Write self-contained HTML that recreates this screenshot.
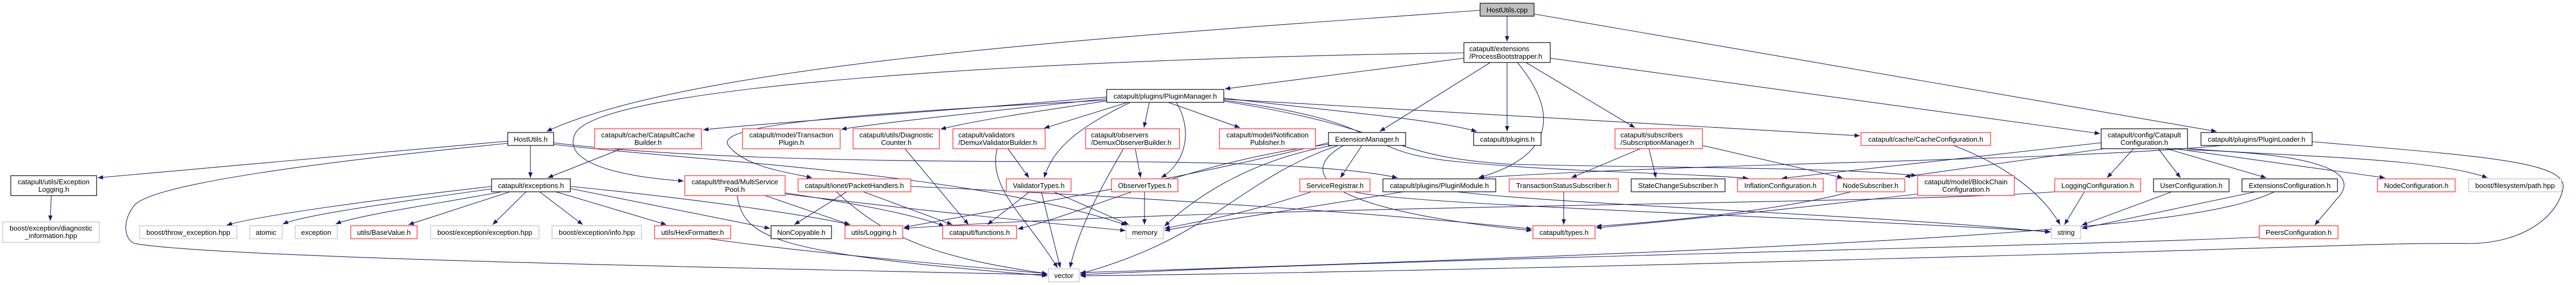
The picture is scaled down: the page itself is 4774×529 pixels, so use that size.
<!DOCTYPE html>
<html><head><meta charset="utf-8"><style>
html,body{margin:0;padding:0;background:#fff;}
svg{display:block;}
text{font-family:"Liberation Sans",Arial,sans-serif;font-size:13px;fill:#000;}
.e{fill:none;stroke:#191970;stroke-width:1.1;}
.b{fill:#fff;stroke:#000;stroke-width:1.2;}
.r{fill:#fff;stroke:#f22;stroke-width:1.2;}
.g{fill:#fff;stroke:#bfbfbf;stroke-width:1.2;}
</style></head><body>
<svg width="4774" height="529" viewBox="0 0 4774 529" xmlns="http://www.w3.org/2000/svg">
<defs><marker id="a" markerWidth="10" markerHeight="8" refX="10" refY="4" orient="auto" markerUnits="userSpaceOnUse"><path d="M0,0 L10,4 L0,8z" fill="#191970"/></marker></defs>
<g marker-end="url(#a)">
<path class="e" d="M2793,30 L2793,77"/>
<path class="e" d="M2743,19 C2200,60 1300,110 1013,244"/>
<path class="e" d="M2843,26 L4108,244"/>
<path class="e" d="M2713,98 C1900,110 1100,160 1065,250 C1040,310 1180,330 1267,336"/>
<path class="e" d="M2713,108 L2270,165"/>
<path class="e" d="M2762,116 L2557,244"/>
<path class="e" d="M2793,116 L2793,244"/>
<path class="e" d="M2812,116 C2890,210 2880,290 2740,330"/>
<path class="e" d="M2828,116 L3030,237"/>
<path class="e" d="M2873,108 L3892,248"/>
<path class="e" d="M983,270 L983,330"/>
<path class="e" d="M941,262 L181,330"/>
<path class="e" d="M941,266 C600,300 290,340 250,380 C225,410 230,445 250,452 C400,480 1500,500 1941,510"/>
<path class="e" d="M1026,265 C1300,300 1800,300 2020,300 C2300,300 2500,310 2590,330"/>
<path class="e" d="M1026,268 C1300,300 1800,320 2088,418"/>
<path class="e" d="M911,346 C700,370 480,400 420,418"/>
<path class="e" d="M915,350 C700,380 560,400 524,416"/>
<path class="e" d="M930,356 C800,380 660,400 622,416"/>
<path class="e" d="M945,356 L757,417"/>
<path class="e" d="M975,356 L913,417"/>
<path class="e" d="M1000,356 L1080,417"/>
<path class="e" d="M1030,356 L1235,417"/>
<path class="e" d="M1057,350 L1427,424"/>
<path class="e" d="M1057,346 C1300,370 1500,400 1576,417"/>
<path class="e" d="M1152,276 L1015,330"/>
<path class="e" d="M2051,180 C1700,210 1400,230 1303,241"/>
<path class="e" d="M2051,183 C1900,200 1650,225 1559,240"/>
<path class="e" d="M2060,186 C1900,210 1800,225 1743,240"/>
<path class="e" d="M2090,190 L1935,238"/>
<path class="e" d="M2130,190 L2120,237"/>
<path class="e" d="M2165,190 L2298,237"/>
<path class="e" d="M2095,190 C1990,240 1950,280 1935,330"/>
<path class="e" d="M2180,190 C2210,240 2200,300 2152,330"/>
<path class="e" d="M2051,186 C1600,210 1320,230 1350,270 C1380,310 1460,320 1505,330"/>
<path class="e" d="M2268,182 C2500,210 2650,220 2737,244"/>
<path class="e" d="M2268,184 L3447,252"/>
<path class="e" d="M2268,186 C2600,230 2500,280 2700,300 C2900,320 3100,320 3240,331"/>
<path class="e" d="M2268,188 C2600,240 2560,290 2800,305 C3100,312 3400,310 3552,326"/>
<path class="e" d="M2524,270 L2484,330"/>
<path class="e" d="M2470,270 C2300,300 2200,380 2158,420"/>
<path class="e" d="M2480,270 C2300,330 2250,440 2002,508"/>
<path class="e" d="M2462,268 C2200,300 2000,400 1886,425"/>
<path class="e" d="M2462,265 C2200,330 1900,380 1675,422"/>
<path class="e" d="M2490,270 C2400,320 2450,390 2839,428"/>
<path class="e" d="M2430,356 C2300,400 2200,415 2158,424"/>
<path class="e" d="M2510,356 C2600,380 3300,400 3800,430"/>
<path class="e" d="M2600,356 C2400,390 2250,410 2158,428"/>
<path class="e" d="M2700,356 C2900,380 3500,400 3800,431"/>
<path class="e" d="M3040,276 L2912,330"/>
<path class="e" d="M3056,276 L3069,330"/>
<path class="e" d="M3155,270 L3415,330"/>
<path class="e" d="M2898,356 L2898,417"/>
<path class="e" d="M3620,270 C3700,300 3780,350 3818,417"/>
<path class="e" d="M3894,265 L3302,331"/>
<path class="e" d="M3900,276 L3530,328"/>
<path class="e" d="M3954,276 L3905,330"/>
<path class="e" d="M4000,276 L4041,330"/>
<path class="e" d="M4015,276 L4200,330"/>
<path class="e" d="M4030,276 L4420,330"/>
<path class="e" d="M4050,275 C4200,290 4500,290 4610,330"/>
<path class="e" d="M4054,278 C4300,285 4380,320 4330,370 C4310,395 4300,405 4290,418"/>
<path class="e" d="M4118,270 C3800,300 3200,300 2740,330"/>
<path class="e" d="M4285,263 C4600,290 4760,300 4750,350 C4740,400 4680,450 4580,452 C4400,450 4300,460 3500,480 C2800,500 2200,510 2002,512"/>
<path class="e" d="M3863,356 L3826,417"/>
<path class="e" d="M3808,356 C3500,380 2300,380 1675,424"/>
<path class="e" d="M3554,360 C3300,390 3100,410 2958,423"/>
<path class="e" d="M3430,356 C3300,390 3100,410 2958,420"/>
<path class="e" d="M4025,356 L3858,418"/>
<path class="e" d="M4180,356 L3858,424"/>
<path class="e" d="M4215,356 C4100,410 3800,450 2002,506"/>
<path class="e" d="M4187,440 C3900,455 2600,480 2002,510"/>
<path class="e" d="M1908,356 L1830,417"/>
<path class="e" d="M1930,356 L1965,497"/>
<path class="e" d="M1953,356 L2092,417"/>
<path class="e" d="M2121,356 L2121,417"/>
<path class="e" d="M1868,276 L1907,330"/>
<path class="e" d="M1848,276 C1830,350 1900,400 1960,497"/>
<path class="e" d="M2104,276 L2114,330"/>
<path class="e" d="M2082,276 C2040,350 2000,420 1983,497"/>
<path class="e" d="M1677,276 L1795,417"/>
<path class="e" d="M1418,363 L1575,417"/>
<path class="e" d="M1366,363 C1380,440 1420,470 1941,512"/>
<path class="e" d="M1455,358 C1600,380 1700,400 1750,420"/>
<path class="e" d="M1455,360 C1700,390 1900,410 2086,428"/>
<path class="e" d="M1569,356 L1472,417"/>
<path class="e" d="M1600,356 L1765,417"/>
<path class="e" d="M1550,356 C1650,450 1750,480 1941,508"/>
<path class="e" d="M1688,346 C2000,360 2500,390 2839,425"/>
<path class="e" d="M1313,443 C1500,470 1800,495 1941,508"/>
<path class="e" d="M95,363 L93,410"/>
</g>
<g>
<rect x="2743" y="6" width="100" height="24" fill="#bfbfbf" stroke="#000" stroke-width="1.2"/><text x="2793" y="23" text-anchor="middle">HostUtils.cpp</text>
<rect class="b" x="2713" y="79" width="160" height="37"/><text x="2723" y="95">catapult/extensions</text><text x="2723" y="109">/ProcessBootstrapper.h</text>
<rect class="b" x="941" y="246" width="85" height="24"/><text x="983.5" y="263" text-anchor="middle">HostUtils.h</text>
<rect class="b" x="2051" y="166" width="217" height="24"/><text x="2159.5" y="183" text-anchor="middle">catapult/plugins/PluginManager.h</text>
<rect class="b" x="4079" y="246" width="206" height="24"/><text x="4182" y="263" text-anchor="middle">catapult/plugins/PluginLoader.h</text>
<rect class="b" x="3894" y="239" width="160" height="37"/><text x="3974" y="255" text-anchor="middle">catapult/config/Catapult</text><text x="3974" y="269" text-anchor="middle">Configuration.h</text>
<rect class="b" x="2462" y="246" width="143" height="24"/><text x="2533.5" y="263" text-anchor="middle">ExtensionManager.h</text>
<rect class="b" x="2731" y="246" width="125" height="24"/><text x="2793.5" y="263" text-anchor="middle">catapult/plugins.h</text>
<rect class="r" x="2993" y="239" width="162" height="37"/><text x="3003" y="255">catapult/subscribers</text><text x="3003" y="269">/SubscriptionManager.h</text>
<rect class="r" x="3449" y="246" width="240" height="24"/><text x="3569" y="263" text-anchor="middle">catapult/cache/CacheConfiguration.h</text>
<rect class="r" x="1102" y="239" width="198" height="37"/><text x="1201" y="255" text-anchor="middle">catapult/cache/CatapultCache</text><text x="1201" y="269" text-anchor="middle">Builder.h</text>
<rect class="r" x="1376" y="239" width="181" height="37"/><text x="1466.5" y="255" text-anchor="middle">catapult/model/Transaction</text><text x="1466.5" y="269" text-anchor="middle">Plugin.h</text>
<rect class="r" x="1581" y="239" width="160" height="37"/><text x="1661" y="255" text-anchor="middle">catapult/utils/Diagnostic</text><text x="1661" y="269" text-anchor="middle">Counter.h</text>
<rect class="r" x="1766" y="239" width="171" height="37"/><text x="1776" y="255">catapult/validators</text><text x="1776" y="269">/DemuxValidatorBuilder.h</text>
<rect class="r" x="2012" y="239" width="174" height="37"/><text x="2022" y="255">catapult/observers</text><text x="2022" y="269">/DemuxObserverBuilder.h</text>
<rect class="r" x="2260" y="239" width="178" height="37"/><text x="2349" y="255" text-anchor="middle">catapult/model/Notification</text><text x="2349" y="269" text-anchor="middle">Publisher.h</text>
<rect class="b" x="20" y="326" width="159" height="37"/><text x="99.5" y="342" text-anchor="middle">catapult/utils/Exception</text><text x="99.5" y="356" text-anchor="middle">Logging.h</text>
<rect class="b" x="911" y="332" width="146" height="24"/><text x="984" y="349" text-anchor="middle">catapult/exceptions.h</text>
<rect class="r" x="1269" y="326" width="186" height="37"/><text x="1362" y="342" text-anchor="middle">catapult/thread/MultiService</text><text x="1362" y="356" text-anchor="middle">Pool.h</text>
<rect class="r" x="1479" y="332" width="209" height="24"/><text x="1583.5" y="349" text-anchor="middle">catapult/ionet/PacketHandlers.h</text>
<rect class="r" x="1865" y="332" width="120" height="24"/><text x="1925" y="349" text-anchor="middle">ValidatorTypes.h</text>
<rect class="r" x="2060" y="332" width="123" height="24"/><text x="2121.5" y="349" text-anchor="middle">ObserverTypes.h</text>
<rect class="r" x="2409" y="332" width="130" height="24"/><text x="2474" y="349" text-anchor="middle">ServiceRegistrar.h</text>
<rect class="b" x="2563" y="332" width="209" height="24"/><text x="2667.5" y="349" text-anchor="middle">catapult/plugins/PluginModule.h</text>
<rect class="r" x="2797" y="332" width="202" height="24"/><text x="2898" y="349" text-anchor="middle">TransactionStatusSubscriber.h</text>
<rect class="b" x="3023" y="332" width="174" height="24"/><text x="3110" y="349" text-anchor="middle">StateChangeSubscriber.h</text>
<rect class="r" x="3220" y="332" width="159" height="24"/><text x="3299.5" y="349" text-anchor="middle">InflationConfiguration.h</text>
<rect class="r" x="3403" y="332" width="127" height="24"/><text x="3466.5" y="349" text-anchor="middle">NodeSubscriber.h</text>
<rect class="r" x="3554" y="326" width="179" height="37"/><text x="3643.5" y="342" text-anchor="middle">catapult/model/BlockChain</text><text x="3643.5" y="356" text-anchor="middle">Configuration.h</text>
<rect class="r" x="3808" y="332" width="159" height="24"/><text x="3887.5" y="349" text-anchor="middle">LoggingConfiguration.h</text>
<rect class="b" x="3991" y="332" width="140" height="24"/><text x="4061" y="349" text-anchor="middle">UserConfiguration.h</text>
<rect class="b" x="4155" y="332" width="177" height="24"/><text x="4243.5" y="349" text-anchor="middle">ExtensionsConfiguration.h</text>
<rect class="r" x="4406" y="332" width="144" height="24"/><text x="4478" y="349" text-anchor="middle">NodeConfiguration.h</text>
<rect class="g" x="4575" y="332" width="172" height="24"/><text x="4661" y="349" text-anchor="middle">boost/filesystem/path.hpp</text>
<rect class="g" x="5" y="412" width="179" height="38"/><text x="94.5" y="428" text-anchor="middle">boost/exception/diagnostic</text><text x="94.5" y="442" text-anchor="middle">_information.hpp</text>
<rect class="g" x="259" y="419" width="180" height="24"/><text x="349" y="436" text-anchor="middle">boost/throw_exception.hpp</text>
<rect class="g" x="463" y="419" width="60" height="24"/><text x="493" y="436" text-anchor="middle">atomic</text>
<rect class="g" x="547" y="419" width="78" height="24"/><text x="586" y="436" text-anchor="middle">exception</text>
<rect class="r" x="650" y="419" width="123" height="24"/><text x="711.5" y="436" text-anchor="middle">utils/BaseValue.h</text>
<rect class="g" x="798" y="419" width="201" height="24"/><text x="898.5" y="436" text-anchor="middle">boost/exception/exception.hpp</text>
<rect class="g" x="1023" y="419" width="166" height="24"/><text x="1106" y="436" text-anchor="middle">boost/exception/info.hpp</text>
<rect class="r" x="1213" y="419" width="141" height="24"/><text x="1283.5" y="436" text-anchor="middle">utils/HexFormatter.h</text>
<rect class="b" x="1429" y="419" width="112" height="24"/><text x="1485" y="436" text-anchor="middle">NonCopyable.h</text>
<rect class="r" x="1566" y="419" width="107" height="24"/><text x="1619.5" y="436" text-anchor="middle">utils/Logging.h</text>
<rect class="r" x="1747" y="419" width="137" height="24"/><text x="1815.5" y="436" text-anchor="middle">catapult/functions.h</text>
<rect class="g" x="2087" y="419" width="69" height="24"/><text x="2121.5" y="436" text-anchor="middle">memory</text>
<rect class="r" x="2841" y="419" width="115" height="24"/><text x="2898.5" y="436" text-anchor="middle">catapult/types.h</text>
<rect class="g" x="3802" y="419" width="54" height="24"/><text x="3829" y="436" text-anchor="middle">string</text>
<rect class="r" x="4187" y="419" width="146" height="24"/><text x="4260" y="436" text-anchor="middle">PeersConfiguration.h</text>
<rect class="g" x="1943" y="499" width="57" height="24"/><text x="1971.5" y="516" text-anchor="middle">vector</text>
</g>
</svg>
</body></html>
